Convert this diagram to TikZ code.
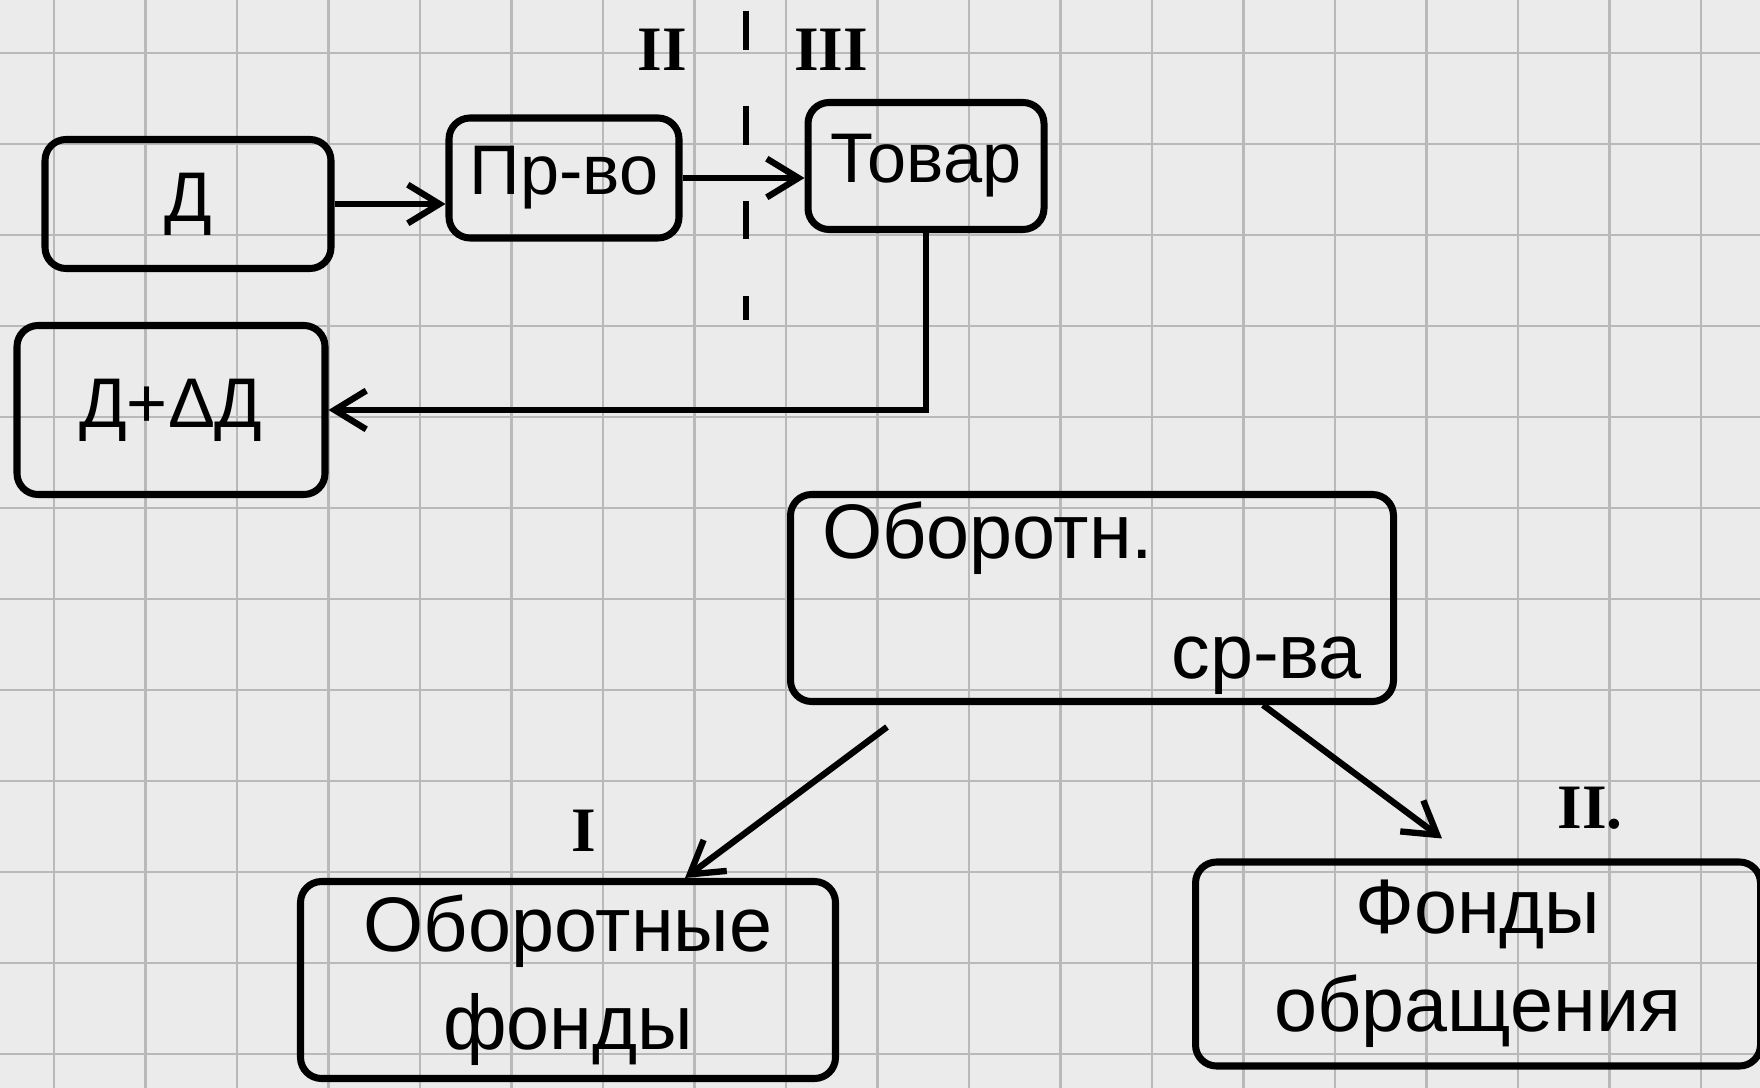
\documentclass[tikz,border=0pt]{standalone}
\usepackage{fontspec}
\setmainfont{Liberation Sans}
\newfontfamily\numfont{Liberation Serif}
\usetikzlibrary{arrows.meta,positioning,calc}

\begin{document}
\begin{tikzpicture}[x=0.1mm,y=-0.1mm,
  box/.style={draw,line width=2pt,rounded corners=6pt,inner sep=0pt,align=center,font=\fontsize{20}{30}\selectfont},
  arr/.style={-{Straight Barb[length=9pt,width=11pt]},line width=1.8pt},
  numlbl/.style={font=\numfont\bfseries\fontsize{18}{20}\selectfont}]
\clip (0,0) rectangle (1760,1088);
% squared paper
\fill[gray!16] (0,0) rectangle (1760,1088);
\foreach \gx in {54,145.5,...,1760}
  \draw[gray!55,line width=0.8pt] (\gx,0)--(\gx,1088);
\foreach \gy in {53,144,...,1088}
  \draw[gray!55,line width=0.8pt] (0,\gy)--(1760,\gy);
% circuit of capital
\node[box,minimum width=28.6mm,minimum height=12.9mm] (d) at (188,204) {Д};
\node[box,minimum width=23mm,minimum height=12mm] (prv) at (564,178) {Пр-во};
\node[box,minimum width=23.6mm,minimum height=12.7mm] (tov) at (926,166) {Товар};
\node[box,minimum width=30.8mm,minimum height=16.9mm] (dd) at (171,410) {Д+ΔД};
\node[numlbl] (st2) at (662,50) {II};
\node[numlbl] (st3) at (831,50) {III};
\coordinate (sepT) at (746,11);
\coordinate (sepB) at (746,320);
\draw[line width=1.5pt,dash pattern=on 11pt off 16pt] (sepT)--(sepB);
\draw[arr] (d.east) -- (d.east -| prv.west);
\draw[arr] (prv.east) -- (prv.east -| tov.west);
\draw[arr] (tov.south) |- (dd.east);
% working capital
\node[box,minimum width=60.3mm,minimum height=20.7mm,text width=54mm,align=left,font=\fontsize{22}{34}\selectfont] (obs) at (1092,598) {Оборотн.\\\hspace*{\fill}ср-ва};
\node[box,minimum width=53.5mm,minimum height=19.7mm,font=\fontsize{22}{28}\selectfont] (obf) at (568,980) {Оборотные\\фонды};
\node[box,minimum width=56.5mm,minimum height=20.4mm,font=\fontsize{22}{28}\selectfont] (fob) at (1478,964) {Фонды\\обращения};
\node[numlbl] (gr1) at (584,831) {I};
\node[numlbl] (gr2) at (1590,808) {II.};
\draw[arr] ($(obs.south)+(-205,22)$) -- ($(obf.north)+(117,0)$);
\draw[arr] ($(obs.south)+(171,0)$) -- ($(fob.north)+(-36,-20)$);
\end{tikzpicture}
\end{document}
